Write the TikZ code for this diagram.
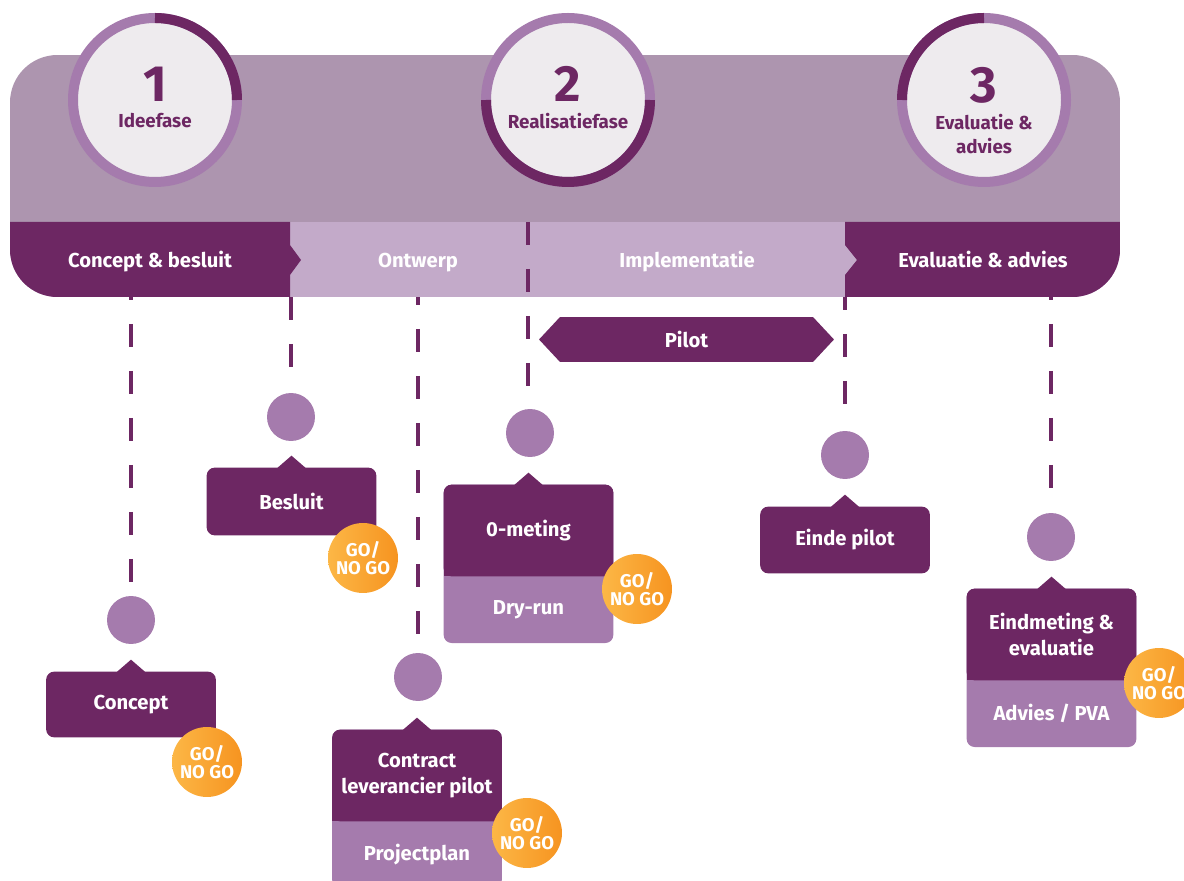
\documentclass[tikz,border=0pt]{standalone}
\usepackage{fontspec}
\setmainfont{Fira Sans}
\usetikzlibrary{positioning,calc,shapes.symbols,backgrounds}
\definecolor{aubergine}{RGB}{109,39,99}
\definecolor{mauve}{RGB}{173,149,175}
\definecolor{lilac}{RGB}{195,170,201}
\definecolor{orchid}{RGB}{165,123,173}
\definecolor{mist}{RGB}{238,235,238}
\definecolor{goA}{RGB}{252,183,70}
\definecolor{goB}{RGB}{246,148,32}
\tikzset{
  bandlabel/.style={text=white,anchor=base,font=\bfseries\fontsize{11.5}{13}\selectfont},
  phasenum/.style={text=aubergine,font=\bfseries\fontsize{29}{29}\selectfont},
  phasename/.style={text=aubergine,font=\bfseries\fontsize{10.7}{13.6}\selectfont,align=center},
  card/.style={text=white,font=\bfseries\fontsize{11.5}{14.7}\selectfont,align=center,inner sep=0pt,minimum width=3.38cm},
  cardtop/.style={card,minimum height=1.82cm},
  cardbot/.style={card,minimum height=1.32cm},
  milestone/.style={circle,fill=orchid,minimum size=0.96cm,inner sep=0pt},
  gobadge/.style={circle,minimum size=1.4cm,inner sep=0pt,left color=goA,right color=goB,text=white,align=center,font=\bfseries\fontsize{10.5}{10.5}\selectfont},
  timeline/.style={aubergine,line width=0.08cm,dash pattern=on 0.46cm off 0.48cm},
}
% ring round a phase circle, dark arc from #2 to #3 (y runs down)
\newcommand{\phasering}[3]{\draw[orchid,line width=0.2cm] (#1) circle (82);
  \draw[aubergine,line width=0.2cm] ($(#1)+(#2:82)$) arc (#2:#3:82);}
% card with pointer, one part
\newcommand{\cardone}[1]{\fill[aubergine,rounded corners=0.16cm] (#1.north west) rectangle (#1.south east);
  \fill[aubergine] ($(#1.north)+(-15,1)$) -- ($(#1.north)+(0,-12)$) -- ($(#1.north)+(15,1)$) -- cycle;}
% card with pointer, two parts
\newcommand{\cardtwo}[2]{\fill[orchid,rounded corners=0.16cm] (#1.north west) rectangle (#2.south east);
  \fill[aubergine,rounded corners=0.16cm] (#1.north west) rectangle (#1.south east);
  \fill[aubergine] ($(#1.south west)+(0,-8)$) rectangle (#1.south east);
  \fill[aubergine] ($(#1.north)+(-15,1)$) -- ($(#1.north)+(0,-12)$) -- ($(#1.north)+(15,1)$) -- cycle;}

\begin{document}
\begin{tikzpicture}[x=0.02cm,y=-0.02cm]
\useasboundingbox (0,0) rectangle (1184,881);
% milestones
\node[milestone] (d-concept) at (131,620) {};
\node[milestone] (d-besluit) at (291,417) {};
\node[milestone] (d-contract) at (418,677) {};
\node[milestone] (d-ometing) at (530,433) {};
\node[milestone] (d-einde) at (845,455) {};
\node[milestone] (d-eind) at (1051,537) {};
\coordinate (l-concept) at (131,297);
\coordinate (l-besluit) at (291,297);
\coordinate (l-contract) at (418,297);
\coordinate (l-ometing) at (528,222);
\coordinate (l-einde) at (845,297);
\coordinate (l-eind) at (1051,297);
\draw[timeline,dash phase=0.4cm,shorten >=0.26cm] (l-concept) -- (d-concept);
\draw[timeline,shorten >=0.46cm] (l-besluit) -- (d-besluit);
\draw[timeline,dash phase=0.3cm,shorten >=0.3cm] (l-contract) -- (d-contract);
\draw[timeline,dash phase=0.2cm,shorten >=0.5cm] (l-einde) -- (d-einde);
\draw[timeline,dash phase=0.4cm,shorten >=0.46cm] (l-eind) -- (d-eind);
% band
\begin{scope}
\clip[rounded corners=0.95cm] (10,55) rectangle (1120,297);
\fill[mauve] (10,55) rectangle (1120,222);
\fill[lilac] (10,222) rectangle (1120,297);
\fill[aubergine] (10,222) -- (290,222) -- (290,245) -- (301,260) -- (290,275) -- (290,297) -- (10,297) -- cycle;
\fill[aubergine] (845,222) -- (1120,222) -- (1120,297) -- (845,297) -- (845,275) -- (857,260) -- (845,245) -- cycle;
\end{scope}
\draw[timeline,shorten >=0.42cm] (l-ometing) -- ([xshift=-2*0.02cm]d-ometing.north);
\node[bandlabel] (b-concept) at (150,268) {Concept \& besluit};
\node[bandlabel] (b-ontwerp) at (418,268) {Ontwerp};
\node[bandlabel] (b-impl) at (687,268) {Implementatie};
\node[bandlabel] (b-eval) at (983,268) {Evaluatie \& advies};
% phases
\node[circle,fill=mist,minimum size=3.28cm] (phase1) at (155,100) {};
\node[circle,fill=mist,minimum size=3.28cm] (phase2) at (568,100) {};
\node[circle,fill=mist,minimum size=3.28cm] (phase3) at (984,100) {};
\phasering{phase1.center}{-90}{0}
\phasering{phase2.center}{0}{180}
\phasering{phase3.center}{-180}{-90}
\node[phasenum] (n1) at (155,84) {1};
\node[phasename] (t1) at (155,121) {Ideefase};
\node[phasenum] (n2) at (568,84) {2};
\node[phasename] (t2) at (568,121) {Realisatiefase};
\node[phasenum] (n3) at (984,85) {3};
\node[phasename] (t3) at (984,134) {Evaluatie \&\\advies};
% pilot
\node[signal,signal to=west and east,signal pointer angle=94,fill=aubergine,minimum width=5.9cm,minimum height=0.9cm,inner sep=0pt,text=white,font=\bfseries\fontsize{11.5}{13}\selectfont] (pilot) at (686.5,339.5) {Pilot};
% cards
\node[card,minimum height=1.3cm] (concept) at (131,704.5) {Concept};
\node[card,minimum height=1.34cm] (besluit) at (291.5,501.5) {Besluit};
\node[card,minimum height=1.32cm] (einde) at (845,540) {Einde pilot};
\node[cardtop] (ometing) at (528.5,530.5) {0-meting};
\node[cardbot,below=0pt of ometing] (dryrun) {Dry-run};
\node[cardtop] (contract) at (417,775.5) {Contract\\leverancier pilot};
\node[cardbot,below=0pt of contract] (projectplan) {Projectplan};
\node[cardtop] (eindmeting) at (1051.5,634.5) {Eindmeting \&\\evaluatie};
\node[cardbot,below=0pt of eindmeting] (advies) {Advies / PVA};
\begin{scope}[on background layer]
\cardone{concept}
\cardone{besluit}
\cardone{einde}
\cardtwo{ometing}{dryrun}
\cardtwo{contract}{projectplan}
\cardtwo{eindmeting}{advies}
\end{scope}
% go / no go
\node[gobadge] (go-concept) at (207,762) {GO/\\NO GO};
\node[gobadge] (go-besluit) at (363,558) {GO/\\NO GO};
\node[gobadge] (go-ometing) at (637,589) {GO/\\NO GO};
\node[gobadge] (go-contract) at (527,833) {GO/\\NO GO};
\node[gobadge] (go-eind) at (1159,683) {GO/\\NO GO};
\end{tikzpicture}
\end{document}
